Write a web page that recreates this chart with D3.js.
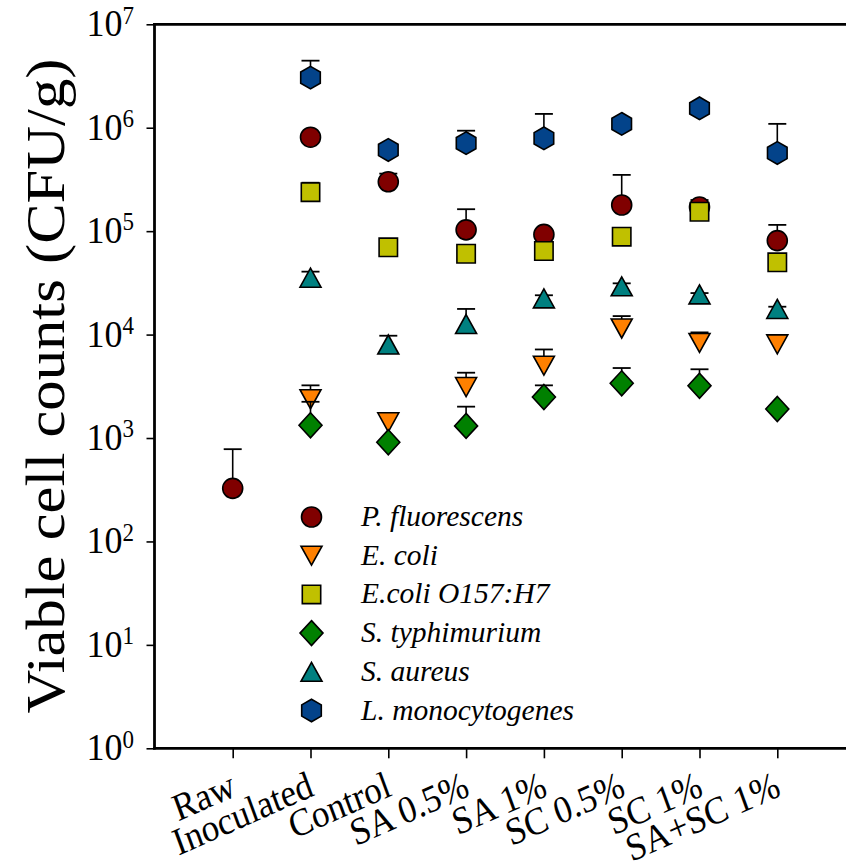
<!DOCTYPE html>
<html><head><meta charset="utf-8">
<script src="https://cdn.jsdelivr.net/npm/d3@7"></script>
<style>body{margin:0;background:#fff}svg{display:block} text{font-family:"Liberation Serif", "Times New Roman", Times, serif;}</style>
</head><body>
<svg id="chart" width="846" height="863"></svg>
<script>
const categories = ["Raw","Inoculated","Control","SA 0.5%","SA 1%","SC 0.5%","SC 1%","SA+SC 1%"];
const seriesNames = ["P. fluorescens","E. coli","E.coli O157:H7","S. typhimurium","S. aureus","L. monocytogenes"];
const seriesColors = ["#800000","#FF8000","#C0C000","#008000","#008080","#03438A"];
const seriesSymbols = ["circle","triangleDown","square","diamond","triangleUp","hexagon"];
const yTickExponents = [0,1,2,3,4,5,6,7];

const pFluorescens      = [326, 8.1e5, 3.0e5, 1.03e5, 9.3e4, 1.79e5, 1.71e5, 8.1e4];
const pFluorescensUpper = [780, null, 3.6e5, 1.63e5, null, 3.5e5, 2.0e5, 1.15e5];
const eColi             = [null, 2370, 1420, 3110, 5000, 11450, 8300, 8050];
const eColiUpper        = [null, 3230, null, 4280, 7180, 15100, 10500, null];
const eColiO157         = [null, 2.38e5, 6.98e4, 6.05e4, 6.43e4, 8.84e4, 1.54e5, 5.0e4];
const eColiO157Upper    = [null, 2.94e5, null, null, null, null, null, null];
const sTyphimurium      = [null, 1330, 910, 1310, 2490, 3380, 3200, 1910];
const sTyphimuriumUpper = [null, 2240, null, 2010, 3230, 4750, 4620, null];
const sAureus           = [null, 3.55e4, 8020, 1.265e4, 2.24e4, 2.93e4, 2.45e4, 1.77e4];
const sAureusUpper      = [null, 4.06e4, 9750, 1.77e4, 2.4e4, 3.13e4, 2.52e4, 1.86e4];
const lMonocytogenes    = [null, 3.05e6, 6.1e5, 7.1e5, 7.9e5, 1.09e6, 1.54e6, 5.7e5];
const lMonocytogenesUpper = [null, 4.45e6, null, 9.36e5, 1.36e6, null, null, 1.09e6];

const seriesValues = [pFluorescens, eColi, eColiO157, sTyphimurium, sAureus, lMonocytogenes];
const seriesUpper = [pFluorescensUpper, eColiUpper, eColiO157Upper, sTyphimuriumUpper, sAureusUpper, lMonocytogenesUpper];

(function(){
const svg = d3.select("#chart");
const mLeft = 154.5, mTop = 24.3, mBottom = 748.3, mRight = 846;
const x = d3.scalePoint().domain(categories).range([232.7, 777.3]);
const y = d3.scaleLog().domain([1, 1e7]).range([mBottom, mTop]);

function symbolPath(type){
  switch(type){
    case "circle": { const p = d3.path(); p.arc(0,0,10,0,2*Math.PI); p.closePath(); return p.toString(); }
    case "triangleDown": return "M-10.5,-9.5L10.5,-9.5L0,9.5Z";
    case "triangleUp": return "M0,-9.5L10.5,9.5L-10.5,9.5Z";
    case "square": return "M-9.2,-9.2H9.2V9.2H-9.2Z";
    case "diamond": return "M0,-12.5L11.5,0L0,12.5L-11.5,0Z";
    case "hexagon": {
      const r = 11.3, w = 9.8;
      return `M0,${-r}L${w},${-r/2}L${w},${r/2}L0,${r}L${-w},${r/2}L${-w},${-r/2}Z`;
    }
  }
}

const axisG = svg.append("g");
const yAxis = d3.axisLeft(y).tickValues(yTickExponents.map(e=>Math.pow(10,e))).tickSize(8).tickFormat("");
const yg = axisG.append("g").attr("transform",`translate(${mLeft},0)`).call(yAxis);
yg.select(".domain").remove();
yg.selectAll(".tick line").attr("stroke","#000").attr("stroke-width",1.6);
const xAxis = d3.axisBottom(x).tickSize(10).tickFormat("");
const xg = axisG.append("g").attr("transform",`translate(0,${mBottom})`).call(xAxis);
xg.select(".domain").remove();
xg.selectAll(".tick line").attr("stroke","#000").attr("stroke-width",1.6);

axisG.append("line").attr("x1",mLeft).attr("x2",mLeft).attr("y1",mTop-1.3).attr("y2",mBottom+1.3).attr("stroke","#000").attr("stroke-width",2.8);
axisG.append("line").attr("x1",mLeft-1.3).attr("x2",mRight).attr("y1",mTop).attr("y2",mTop).attr("stroke","#000").attr("stroke-width",2.8);
axisG.append("line").attr("x1",mLeft-1.3).attr("x2",mRight).attr("y1",mBottom).attr("y2",mBottom).attr("stroke","#000").attr("stroke-width",2.8);

yTickExponents.forEach(e=>{
  const t = svg.append("text").attr("transform",`translate(134,${y(Math.pow(10,e))+12}) scale(1,1.06)`)
    .attr("text-anchor","end").attr("font-size",36).attr("fill","#000");
  t.append("tspan").text("10");
  t.append("tspan").attr("dy",-12).attr("font-size",23).text(String(e));
});

categories.forEach(c=>{
  svg.append("text").attr("transform",`translate(${x(c)+5},795) scale(1,1.1) rotate(-22)`)
    .attr("text-anchor","end").attr("font-size",35).attr("fill","#000").text(c);
});

svg.append("text").attr("transform","translate(64,386) rotate(-90)")
  .attr("text-anchor","middle").attr("font-size",54)
  .attr("textLength",655).attr("lengthAdjust","spacingAndGlyphs").attr("fill","#000")
  .text("Viable cell counts (CFU/g)");

seriesNames.forEach((name, si)=>{
  const g = svg.append("g");
  const pts = categories.map((c,i)=>({c, v: seriesValues[si][i], u: seriesUpper[si][i]})).filter(d=>d.v!=null);
  pts.filter(d=>d.u!=null).forEach(d=>{
    g.append("line").attr("x1",x(d.c)).attr("x2",x(d.c)).attr("y1",y(d.v)).attr("y2",y(d.u)).attr("stroke","#000").attr("stroke-width",1.6);
    g.append("line").attr("x1",x(d.c)-9).attr("x2",x(d.c)+9).attr("y1",y(d.u)).attr("y2",y(d.u)).attr("stroke","#000").attr("stroke-width",1.8);
  });
  g.selectAll("path.m").data(pts).enter().append("path").attr("class","m")
    .attr("d",symbolPath(seriesSymbols[si]))
    .attr("transform",d=>`translate(${x(d.c)},${y(d.v)})`)
    .attr("fill",seriesColors[si]).attr("stroke","#000").attr("stroke-width",1.6);
});

const legendX = 311.5, legendY0 = 517, legendStep = 38.7;
seriesNames.forEach((name, si)=>{
  const cy = legendY0 + si*legendStep;
  svg.append("path").attr("d",symbolPath(seriesSymbols[si])).attr("transform",`translate(${legendX},${cy})`)
    .attr("fill",seriesColors[si]).attr("stroke","#000").attr("stroke-width",1.6);
  svg.append("text").attr("x",361).attr("y",cy+9).attr("font-style","italic")
    .attr("font-size",29.5).attr("fill","#000").text(name);
});
})();
</script>
</body></html>
